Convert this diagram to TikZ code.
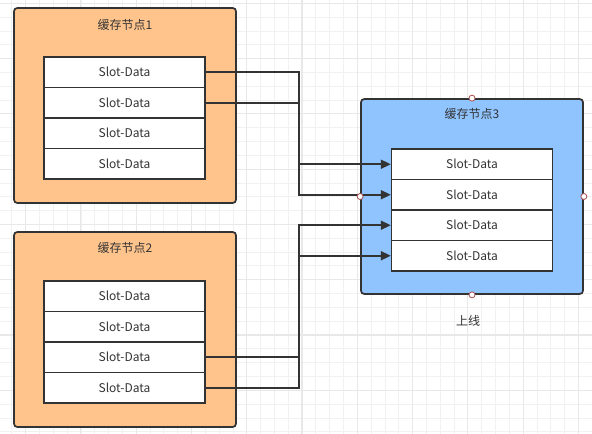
\documentclass[tikz,border=0pt]{standalone}
\usepackage{fontspec}
\setmainfont{Noto Sans CJK SC}
\usetikzlibrary{arrows.meta}
\definecolor{nodeorange}{RGB}{255,196,140}
\definecolor{nodeblue}{RGB}{144,196,255}
\definecolor{edgegray}{RGB}{51,51,51}
\definecolor{txtgray}{RGB}{51,51,51}
\definecolor{gridminor}{RGB}{241,241,241}
\definecolor{gridmajor}{RGB}{232,232,232}
\definecolor{portred}{RGB}{170,80,80}
\tikzset{
  cachebox/.style={draw=edgegray, line width=1.3pt, rounded corners=2.5pt,
    minimum width=166.5pt, minimum height=146.25pt, inner sep=0pt},
  slotbox/.style={draw=edgegray, line width=1pt, fill=white,
    minimum width=120.75pt, minimum height=22.9pt, inner sep=0pt,
    font=\fontsize{9}{11}\selectfont, text=txtgray},
  titletext/.style={font=\fontsize{9}{11}\selectfont, text=txtgray, inner sep=0pt},
  link/.style={draw=edgegray, line width=1.3pt},
  linkarrow/.style={link, -{Triangle[length=7.5pt,width=6.75pt]}},
  port/.style={circle, draw=portred, fill=white, line width=0.6pt,
    minimum size=4.5pt, inner sep=0pt}
}
\begin{document}
\begin{tikzpicture}[x=0.75pt, y=-0.75pt]
\useasboundingbox (0,0) rectangle (592,434);
\fill[white] (0,0) rectangle (592,434);
% grid
\foreach \i in {0,...,43} {
  \pgfmathsetmacro\xx{11.8+13.82*\i}
  \draw[gridminor, line width=0.6pt] (\xx,0) -- (\xx,434);
}
\foreach \i in {0,...,32} {
  \pgfmathsetmacro\yy{3.3+13.82*\i}
  \draw[gridminor, line width=0.6pt] (0,\yy) -- (592,\yy);
}
\foreach \i in {0,...,10} {
  \pgfmathsetmacro\xx{25.6+55.28*\i}
  \draw[gridmajor, line width=0.8pt] (\xx,0) -- (\xx,434);
}
\foreach \i in {0,...,7} {
  \pgfmathsetmacro\yy{3.3+55.28*\i}
  \draw[gridmajor, line width=0.8pt] (0,\yy) -- (592,\yy);
}
% cache nodes
\node[cachebox, fill=nodeorange] (n1) at (125,105.5) {};
\node[cachebox, fill=nodeorange] (n2) at (125,329.5) {};
\node[cachebox, fill=nodeblue] (n3) at (472,196.5) {};
\node[titletext] (t1) at (125,25) {缓存节点1};
\node[titletext] (t2) at (125,248) {缓存节点2};
\node[titletext] (t3) at (472,114) {缓存节点3};
\node[titletext] (online) at (468,321) {上线};
% slots
\foreach \k/\yy in {1/72.25, 2/102.75, 3/133.25, 4/163.75} {
  \node[slotbox] (a\k) at (124.5,\yy) {Slot-Data};
}
\foreach \k/\yy in {1/296.25, 2/326.75, 3/357.25, 4/387.75} {
  \node[slotbox] (b\k) at (124.5,\yy) {Slot-Data};
}
\foreach \k/\yy in {1/164.25, 2/194.75, 3/225.25, 4/255.75} {
  \node[slotbox] (c\k) at (472,\yy) {Slot-Data};
}
% ports
\node[port] (p1) at (n3.north) {};
\node[port] (p3) at (n3.east) {};
\node[port] (p4) at (n3.south) {};
% connectors
\coordinate (bus) at (299,0);
\draw[linkarrow] (a1.east) -- (a1.east -| bus) -- (bus |- c1.west) -- (c1.west);
\draw[linkarrow] (a2.east) -- (a2.east -| bus) -- (bus |- c2.west) -- (c2.west);
\draw[linkarrow] (b3.east) -- (b3.east -| bus) -- (bus |- c3.west) -- (c3.west);
\draw[linkarrow] (b4.east) -- (b4.east -| bus) -- (bus |- c4.west) -- (c4.west);
\node[port] (p2) at (n3.west) {};
\end{tikzpicture}
\end{document}
